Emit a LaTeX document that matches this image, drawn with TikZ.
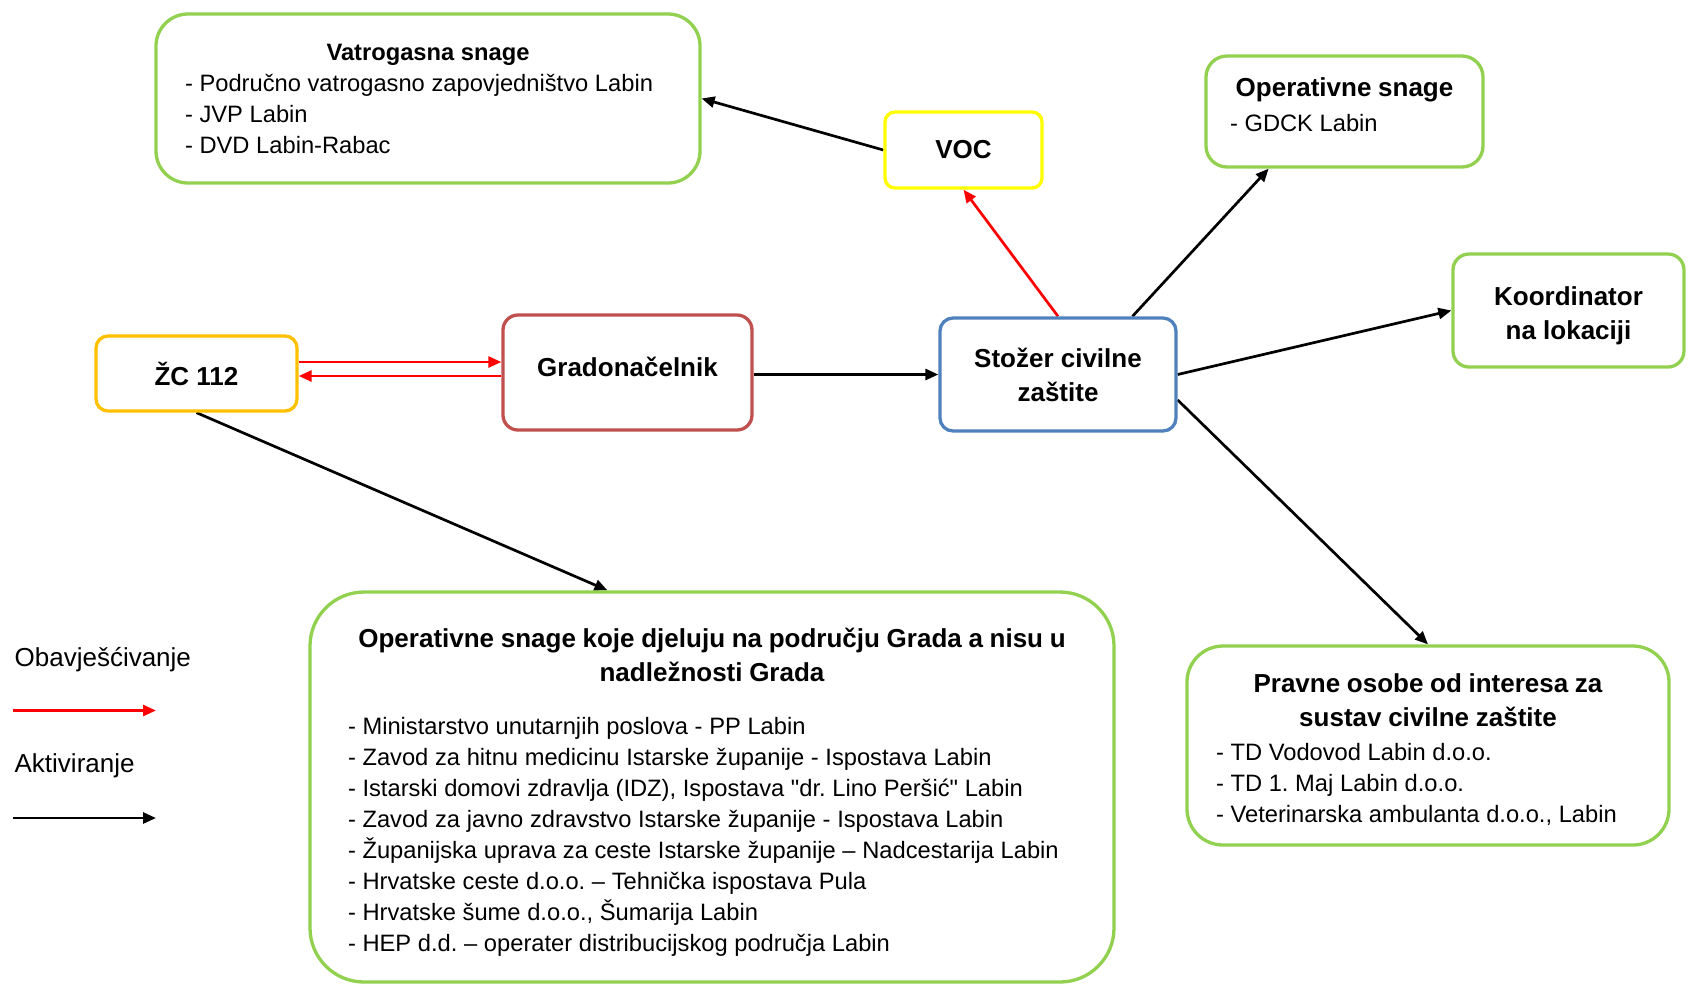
\documentclass[tikz,border=0pt]{standalone}
\usepackage{fontspec}
\setmainfont{Liberation Sans}
\usetikzlibrary{arrows.meta}
\frenchspacing
\pgfdeclarelayer{bg}
\pgfsetlayers{bg,main}
\definecolor{zelena}{RGB}{146,208,80}
\definecolor{zuta}{RGB}{255,255,0}
\definecolor{narancasta}{RGB}{255,192,0}
\definecolor{smeda}{RGB}{192,80,77}
\definecolor{plava}{RGB}{79,129,189}
\newcommand{\boxtitle}{\fontsize{13}{17}\selectfont\bfseries}
\newcommand{\boxlist}{\fontsize{11.85}{15.5}\selectfont}
\tikzset{
    every node/.style={rectangle, inner sep=0mm, draw, line width=1.65pt, fill=white}
}
\tikzset{
    legtxt/.style={draw=none, fill=none, anchor=west, font=\fontsize{13}{17}\selectfont},
    aktiv/.style={-{Triangle[length=6.5pt,width=5.5pt]}, line width=1.35pt, black},
    obavj/.style={-{Triangle[length=6.5pt,width=5.5pt]}, line width=1.35pt, red}
}

\begin{document}
\begin{tikzpicture}[x=0.5pt, y=-0.5pt]
        \useasboundingbox (0,0) rectangle (1688,987);
        \node (vatro) [draw=zelena, rounded corners=16pt, minimum width=272pt, minimum height=84.5pt, text width=243pt, align=left] at (428, 98.5) {\boxlist{\centering\bfseries Vatrogasna snage\par}- Područno vatrogasno zapovjedništvo Labin\\- JVP Labin\\- DVD Labin-Rabac\par};
        \node (voc) [draw=zuta, rounded corners=5pt, minimum width=78.5pt, minimum height=38pt, font=\boxtitle] at (963.5, 150) {VOC};
        \node (opgore) [draw=zelena, rounded corners=10.5pt, minimum width=138.5pt, minimum height=55.5pt, text width=114.5pt, align=left] at (1344.5, 111.5) {{\centering\boxtitle Operativne snage\par}\vspace{2pt}\boxlist - GDCK Labin\par\kern7pt};
        \node (koord) [draw=zelena, rounded corners=8pt, minimum width=115.5pt, minimum height=56.5pt, align=center, font=\boxtitle] at (1568.5, 310.5) {\rule{0pt}{15pt}Koordinator\\na lokaciji};
        \node (zc) [draw=narancasta, rounded corners=6pt, minimum width=100.5pt, minimum height=37.5pt, font=\boxtitle] at (196.5, 373.5) {ŽC 112};
        \node (grad) [draw=smeda, rounded corners=7.5pt, minimum width=124.5pt, minimum height=57.5pt, text depth=5.5pt, font=\boxtitle] at (627.5, 372.5) {Gradonačelnik};
        \node (stozer) [draw=plava, rounded corners=6.5pt, minimum width=118pt, minimum height=56.5pt, align=center, font=\boxtitle] at (1058, 374.5) {Stožer civilne\\zaštite};
        \node (opdole) [draw=zelena, rounded corners=27pt, minimum width=402pt, minimum height=195pt, text width=364pt, align=left] at (712, 787) {{\centering\boxtitle\rule{0pt}{15pt}Operativne snage koje djeluju na području Grada a nisu u\\nadležnosti Grada\par}\vspace{11pt}\boxlist - Ministarstvo unutarnjih poslova - PP Labin\\- Zavod za hitnu medicinu Istarske županije - Ispostava Labin\\- Istarski domovi zdravlja (IDZ), Ispostava \textquotedbl dr. Lino Peršić\textquotedbl{} Labin\\- Zavod za javno zdravstvo Istarske županije - Ispostava Labin\\- Županijska uprava za ceste Istarske županije – Nadcestarija Labin\\- Hrvatske ceste d.o.o. – Tehnička ispostava Pula\\- Hrvatske šume d.o.o., Šumarija Labin\\- HEP d.d. – operater distribucijskog područja Labin\par};
        \node (pravne) [draw=zelena, rounded corners=18pt, minimum width=241pt, minimum height=99.5pt, text width=212pt, align=left] at (1428, 745.5) {{\centering\boxtitle\rule{0pt}{13.4pt}Pravne osobe od interesa za\\sustav civilne zaštite\par}\vspace{1.5pt}\boxlist - TD Vodovod Labin d.o.o.\\- TD 1. Maj Labin d.o.o.\\- Veterinarska ambulanta d.o.o., Labin\par};
        \node (obav) [legtxt] at (13, 660) {Obavješćivanje};
        \node (aktivtxt) [legtxt] at (13, 766) {Aktiviranje};
        \coordinate (ob1) at (13, 710.5);
        \coordinate (ob2) at (156, 710.5);
        \coordinate (ak1) at (13, 818);
        \coordinate (ak2) at (156, 818);
        \begin{pgfonlayer}{bg}
                \draw ([yshift=5.75pt]zc.east) edge [obavj] ([yshift=5.25pt]grad.west);
                \draw ([yshift=-1.75pt]grad.west) edge [obavj] ([yshift=-1.25pt]zc.east);
                \draw (stozer.north) edge [obavj] (voc.south);
                \draw (zc.south) edge [aktiv] (opdole.118);
                \draw (grad.east |- stozer.west) edge [aktiv] (stozer.west);
                \draw (voc.west) edge [aktiv] (vatro.east);
                \draw (stozer.38) edge [aktiv] (opgore.217);
                \draw (stozer.east) edge [aktiv] (koord.west);
                \draw (stozer.-12) edge [aktiv] (pravne.north);
                \draw (ob1) edge [obavj] (ob2);
                \draw (ak1) edge [aktiv] (ak2);
        \end{pgfonlayer}
\end{tikzpicture}
\end{document}
